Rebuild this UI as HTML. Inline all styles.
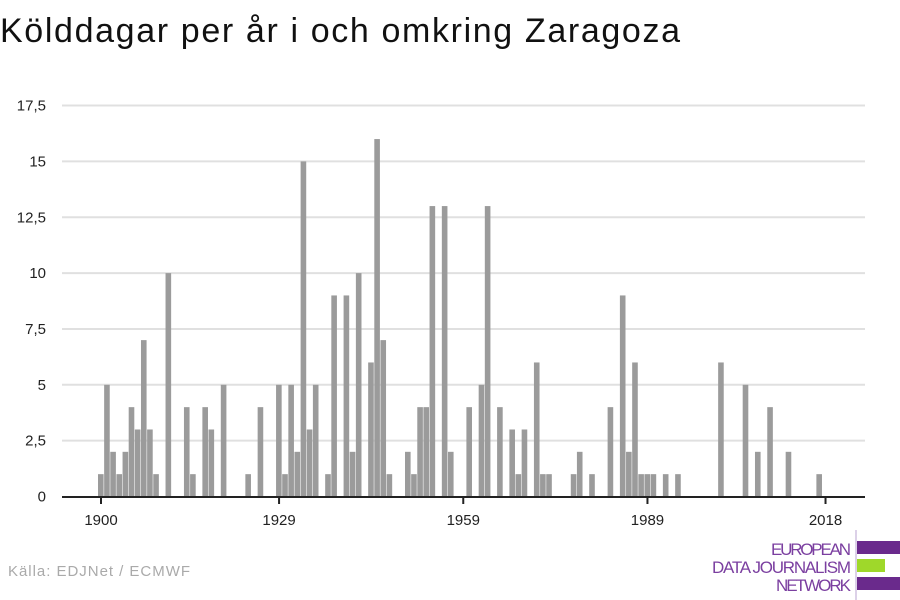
<!DOCTYPE html>
<html><head><meta charset="utf-8"><style>
html,body{margin:0;padding:0;background:#fff;width:900px;height:600px;overflow:hidden;font-family:"Liberation Sans",sans-serif}
</style></head><body>
<svg width="900" height="600" xmlns="http://www.w3.org/2000/svg">
<text x="0" y="42" font-size="34" fill="#111" textLength="680">Kölddagar per år i och omkring Zaragoza</text>
<g id="grid"></g>
<g id="bars"></g>
<g id="axis"></g>
<text x="8" y="576" font-size="15" fill="#aaa" textLength="182">Källa: EDJNet / ECMWF</text>
<g>
<line x1="856" y1="530" x2="856" y2="600" stroke="#b9a3d0" stroke-width="1"/>
<text x="851" y="555" font-size="17" fill="#7b3fa0" text-anchor="end" textLength="80">EUROPEAN</text>
<text x="851" y="573" font-size="17" fill="#7b3fa0" text-anchor="end" textLength="139">DATA JOURNALISM</text>
<text x="851" y="591" font-size="17" fill="#7b3fa0" text-anchor="end" textLength="75">NETWORK</text>
<rect x="857" y="541" width="43" height="13" fill="#6a2a8c"/>
<rect x="857" y="559" width="28" height="13" fill="#9fd82a"/>
<rect x="857" y="577" width="43" height="13" fill="#6a2a8c"/>
</g>
</svg>
<script>
const years=[1900,1901,1902,1903,1904,1905,1906,1907,1908,1909,1911,1914,1915,1917,1918,1920,1924,1926,1929,1930,1931,1932,1933,1934,1935,1937,1938,1940,1941,1942,1944,1945,1946,1947,1950,1951,1952,1953,1954,1956,1957,1960,1962,1963,1965,1967,1968,1969,1971,1972,1973,1977,1978,1980,1983,1985,1986,1987,1988,1989,1990,1992,1994,2001,2005,2007,2009,2012,2017];
const values=[1,5,2,1,2,4,3,7,3,1,10,4,1,4,3,5,1,4,5,1,5,2,15,3,5,1,9,9,2,10,6,16,7,1,2,1,4,4,13,13,2,4,5,13,4,3,1,3,6,1,1,1,2,1,4,9,2,6,1,1,1,1,1,6,5,2,4,2,1];
const yTicks=[0,2.5,5,7.5,10,12.5,15,17.5];
const yTickLabels=["0","2,5","5","7,5","10","12,5","15","17,5"];
const xTicks=[1900,1929,1959,1989,2018];
const NS="http://www.w3.org/2000/svg";
const xs=y=>101+(y-1900)*6.14;
const ys=v=>496.5-v*22.34;
const grid=document.getElementById('grid'),bars=document.getElementById('bars'),axis=document.getElementById('axis');
yTicks.forEach((t,i)=>{
  if(t>0){const l=document.createElementNS(NS,'line');
  l.setAttribute('x1',62);l.setAttribute('x2',865);l.setAttribute('y1',ys(t));l.setAttribute('y2',ys(t));
  l.setAttribute('stroke','#e0e0e0');l.setAttribute('stroke-width','2');
  
  
  grid.appendChild(l);}
  const tx=document.createElementNS(NS,'text');
  tx.setAttribute('x',46);tx.setAttribute('y',ys(t)+5);tx.setAttribute('text-anchor','end');
  tx.setAttribute('font-size','15');tx.setAttribute('fill','#222');tx.textContent=yTickLabels[i];
  
  
  grid.appendChild(tx);
});
years.forEach((y,i)=>{
  const r=document.createElementNS(NS,'rect');
  r.setAttribute('x',xs(y)-3);r.setAttribute('width',5.6);
  r.setAttribute('y',ys(values[i]));r.setAttribute('height',values[i]*22.34);
  r.setAttribute('fill','#9b9b9b');
  
  
  bars.appendChild(r);
});
const base=document.createElementNS(NS,'line');
base.setAttribute('x1',62);base.setAttribute('x2',865);base.setAttribute('y1',497);base.setAttribute('y2',497);
base.setAttribute('stroke','#222');base.setAttribute('stroke-width','2');


axis.appendChild(base);
xTicks.forEach(t=>{
  const l=document.createElementNS(NS,'line');
  l.setAttribute('x1',xs(t));l.setAttribute('x2',xs(t));l.setAttribute('y1',497);l.setAttribute('y2',504);
  l.setAttribute('stroke','#222');l.setAttribute('stroke-width','2');
  
  
  axis.appendChild(l);
  const tx=document.createElementNS(NS,'text');
  tx.setAttribute('x',xs(t));tx.setAttribute('y',525);tx.setAttribute('text-anchor','middle');
  tx.setAttribute('font-size','15');tx.setAttribute('fill','#222');tx.textContent=t;
  
  
  axis.appendChild(tx);
});
</script>
</body></html>
